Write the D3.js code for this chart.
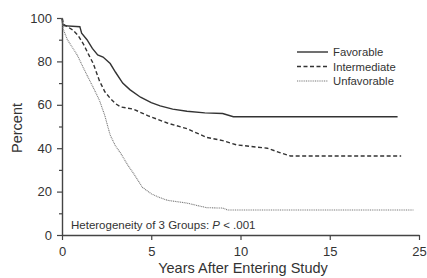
<!DOCTYPE html>
<html><head><meta charset="utf-8">
<script src="https://cdn.jsdelivr.net/npm/d3@7"></script>
<style>body{margin:0;background:#fff}svg{display:block}text{font-family:"Liberation Sans",Arial,sans-serif;fill:#333}</style>
</head><body><svg id="c" width="427" height="278"></svg>
<script>
const seriesNames = ["Favorable", "Intermediate", "Unfavorable"];
const favorableT = [0,0.05,1.0,1.1,1.4,1.7,2.0,2.3,2.7,3.0,3.4,3.8,4.4,5.0,5.5,6.2,7.0,8.0,9.0,9.6,18.8];
const favorableP = [100,96.5,96,93,90,86,83,82,79,75,70,67,63.5,61,59.5,58,57,56.3,56,54.5,54.5];
const intermediateT = [0,0.1,0.6,0.9,1.2,1.5,1.75,2.1,2.4,2.7,3.0,3.3,4.0,4.8,5.9,7.0,8.1,9.0,9.8,11.5,12.2,12.8,19.0];
const intermediateP = [100,97,94.5,92,88,83,79,71,66,63,60.5,59,58,55,51.6,49,45,43.5,41.5,40,38,36.4,36.4];
const unfavorableT = [0,0.06,0.3,0.85,1.2,1.5,1.75,2.1,2.4,2.7,3.0,3.3,3.7,4.0,4.5,5.0,5.4,5.9,7.0,8.1,9.0,9.3,19.7];
const unfavorableP = [100,95,90,83,77,72,68,62,55,46,41,37.5,32,28.5,22,19,17.5,16,14.7,12.6,12.4,11.5,11.5];
const xTickValues = [0,5,10,15,20];
const xTickLabels = ["0","5","10","15","25"];
const yTickValues = [0,20,40,60,80,100];
const annotation = "Heterogeneity of 3 Groups: ";

const svg = d3.select("#c");
const x = d3.scaleLinear().domain([0,20]).range([62,419]);
const y = d3.scaleLinear().domain([0,100]).range([235,18]);
const axisColor = "#444";

// y axis
svg.append("g").attr("transform","translate(62,0)")
  .call(d3.axisLeft(y).tickValues(yTickValues).tickSize(5).tickPadding(5).tickSizeOuter(0));
const yMinor = svg.append("g").attr("transform","translate(62,0)")
  .call(d3.axisLeft(y).tickValues([10,30,50,70,90]).tickSize(3).tickFormat("").tickSizeOuter(0));
yMinor.select(".domain").remove();
// x axis
svg.append("g").attr("transform","translate(0,235)")
  .call(d3.axisBottom(x).tickValues(xTickValues).tickFormat((d,i)=>xTickLabels[i]).tickSize(5).tickPadding(7).tickSizeOuter(0));
svg.selectAll(".domain").attr("stroke",axisColor).attr("stroke-width",1.4);
svg.selectAll(".tick line").attr("stroke",axisColor).attr("stroke-width",1.2);
svg.selectAll(".tick text").style("font-size","13px").attr("fill","#333");

svg.append("text").attr("x",243).attr("y",273).attr("text-anchor","middle").style("font-size","14.5px").text("Years After Entering Study");
svg.append("text").attr("transform","translate(22,128) rotate(-90)").attr("text-anchor","middle").style("font-size","14.5px").text("Percent");

const line = d3.line().x(d=>x(d[0])).y(d=>y(d[1])).curve(d3.curveLinear);
const data = [
  {t:favorableT,p:favorableP,dash:null,w:1.4,c:"#333"},
  {t:intermediateT,p:intermediateP,dash:"4,2.5",w:1.4,c:"#333"},
  {t:unfavorableT,p:unfavorableP,dash:"1,0.8",w:1.1,c:"#777"}
];
data.forEach(s=>{
  const pts = s.t.map((t,i)=>[t,s.p[i]]);
  svg.append("path").attr("d",line(pts)).attr("fill","none").attr("stroke",s.c)
    .attr("stroke-width",s.w).attr("stroke-dasharray",s.dash);
});

// legend
const lg = svg.append("g");
seriesNames.forEach((n,i)=>{
  const yy = 52 + i*14.5;
  const s = data[i];
  lg.append("line").attr("x1",297).attr("x2",328).attr("y1",yy).attr("y2",yy)
    .attr("stroke",s.c).attr("stroke-width",s.w).attr("stroke-dasharray",s.dash);
  lg.append("text").attr("x",333).attr("y",yy+4).style("font-size","11.3px").text(n);
});

const ann = svg.append("text").attr("x",71).attr("y",229).style("font-size","11.5px");
ann.append("tspan").text(annotation);
ann.append("tspan").style("font-style","italic").text("P");
ann.append("tspan").text(" < .001");
</script></body></html>
